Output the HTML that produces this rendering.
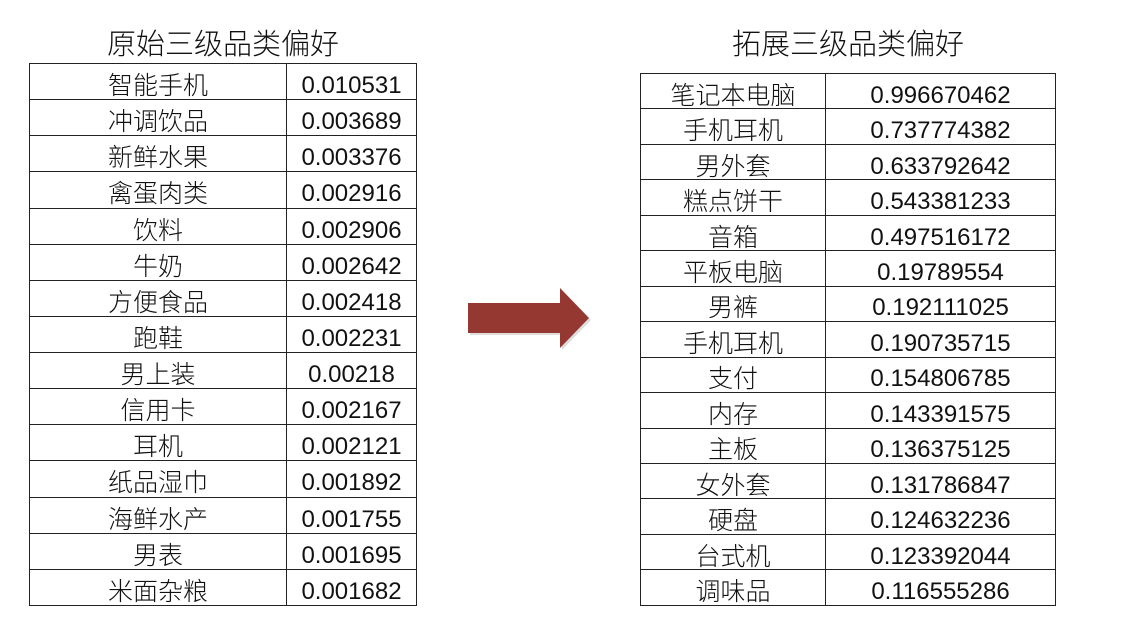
<!DOCTYPE html>
<html><head><meta charset="utf-8">
<style>
body{margin:0;width:1126px;height:644px;background:#fff;position:relative;overflow:hidden;font-family:"Liberation Sans","Noto Sans CJK SC",sans-serif;color:#111}
.title{position:absolute;font-size:29px;text-align:center;line-height:34px;font-weight:300}
table{position:absolute;border-collapse:collapse}
td{border:1px solid #222;padding:0;text-align:center;font-size:25px;line-height:25px;vertical-align:middle;font-weight:300}
td span{position:relative;top:5px}
td.v span{font-size:24px;top:4px}
</style></head><body>
<div class="title" style="left:29px;width:388px;top:28px">原始三级品类偏好</div>
<div class="title" style="left:640px;width:416px;top:28px">拓展三级品类偏好</div>
<table id="lt" style="left:29px;top:63px;width:388px;height:543px"></table>
<table id="rt" style="left:640px;top:73px;width:416px;height:533px"></table>
<svg style="position:absolute;left:0;top:0" width="1126" height="644">
<polygon points="470,305 562,305 562,290 591,320 562,350 562,335 470,335" fill="#bbb" opacity="0.5"/>
<polygon points="468,303 560,303 560,288 589,318 560,348 560,333 468,333" fill="#963832"/>
</svg>
<script>
const leftCats=["智能手机","冲调饮品","新鲜水果","禽蛋肉类","饮料","牛奶","方便食品","跑鞋","男上装","信用卡","耳机","纸品湿巾","海鲜水产","男表","米面杂粮"];
const leftVals=["0.010531","0.003689","0.003376","0.002916","0.002906","0.002642","0.002418","0.002231","0.00218","0.002167","0.002121","0.001892","0.001755","0.001695","0.001682"];
const rightCats=["笔记本电脑","手机耳机","男外套","糕点饼干","音箱","平板电脑","男裤","手机耳机","支付","内存","主板","女外套","硬盘","台式机","调味品"];
const rightVals=["0.996670462","0.737774382","0.633792642","0.543381233","0.497516172","0.19789554","0.192111025","0.190735715","0.154806785","0.143391575","0.136375125","0.131786847","0.124632236","0.123392044","0.116555286"];
function fill(id,cats,vals,w1){
  const t=document.getElementById(id);
  cats.forEach((c,i)=>{
    const tr=document.createElement('tr');
    
    
    const a=document.createElement('td');
    
    
    a.style.width=w1+'px';
    a.innerHTML='<span>'+c+'</span>';
    const b=document.createElement('td');
    
    
    b.className='v';
    b.innerHTML='<span>'+vals[i]+'</span>';
    tr.appendChild(a);tr.appendChild(b);t.appendChild(tr);
  });
}
fill('lt',leftCats,leftVals,256);
fill('rt',rightCats,rightVals,184);
</script>
</body></html>
